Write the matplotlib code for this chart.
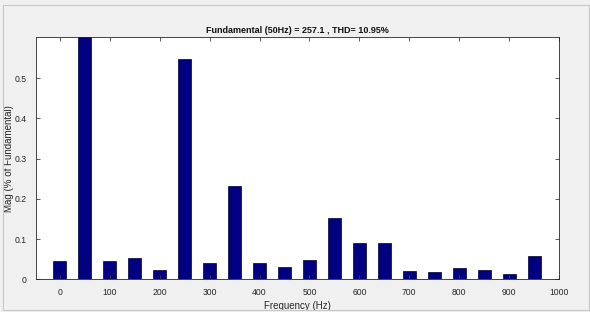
import matplotlib.pyplot as plt
from matplotlib.patches import Rectangle

# harmonic spectrum, values
freqs = [0, 50, 100, 150, 200, 250, 300, 350, 400, 450,
         500, 550, 600, 650, 700, 750, 800, 850, 900, 950]
mags = [0.045, 1.0, 0.046, 0.052, 0.023, 0.548, 0.040, 0.232, 0.041, 0.031,
        0.048, 0.152, 0.090, 0.090, 0.021, 0.018, 0.028, 0.024, 0.013, 0.058]
xticks = list(range(0, 1001, 100))
yticks = [0, 0.1, 0.2, 0.3, 0.4, 0.5]
title = "Fundamental (50Hz) = 257.1 , THD= 10.95%"

plt.rcParams['font.family'] = ['Liberation Sans', 'DejaVu Sans']

fig = plt.figure(figsize=(5.9, 3.12), dpi=100, facecolor='#f0f0f0')
ax = fig.add_axes([36 / 590, 1 - 279.3 / 312, (559 - 36) / 590, (279.3 - 37) / 312])

ax.bar(freqs, mags, width=26, color='#000080', edgecolor='#000033', linewidth=0.5)

ax.set_xlim(-48, 1000)
ax.set_ylim(0, 0.602)
ax.set_xticks(xticks)
ax.set_yticks(yticks)
ax.set_yticklabels(['0', '0.1', '0.2', '0.3', '0.4', '0.5'])

ax.tick_params(direction='in', top=True, right=True, length=3, width=0.6,
               labelsize=6.2, colors='#262626', pad=6)
ax.tick_params(axis='y', pad=7)
ax.tick_params(axis='both', color='#404040')
for s in ax.spines.values():
    s.set_color('#262626')
    s.set_linewidth(0.6)

ax.set_title(title, fontsize=6.5, fontweight='bold', pad=3, color='#111111')
ax.set_xlabel('Frequency (Hz)', fontsize=7, color='#262626', labelpad=3)
ax.set_ylabel('Mag (% of Fundamental)', fontsize=7, color='#262626')
ax.yaxis.set_label_coords(-0.042, 0.5)

# thin frame around the figure like the screenshot
fig.patches.append(Rectangle((3 / 590, 2 / 312), 586 / 590, 305 / 312,
                             transform=fig.transFigure, fill=False,
                             edgecolor='#c8c8c8', linewidth=0.8))

fig.savefig('out.png', dpi=100, facecolor=fig.get_facecolor())
